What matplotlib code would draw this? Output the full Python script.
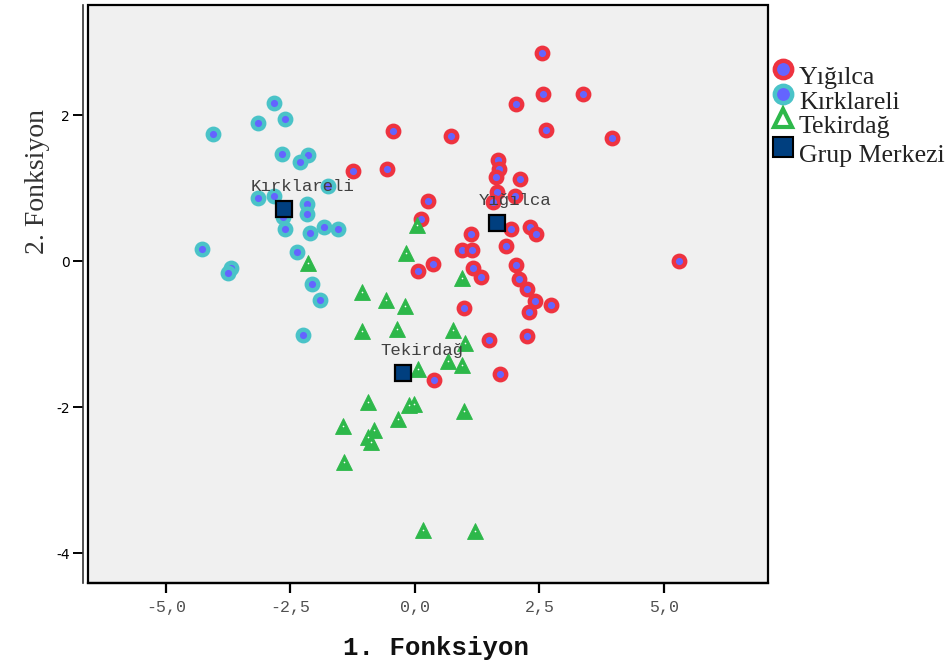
"""Discriminant function scatter (SPSS style) recreated with matplotlib."""
import matplotlib

matplotlib.use("Agg")
import matplotlib.pyplot as plt
from matplotlib.patches import Rectangle

RED = "#EE3340"
BLUE_IN = "#6464FF"
CYAN = "#4AC3C8"
GREEN = "#2DB84A"
NAVY = "#003F7F"
BG = "#F0F0F0"

plt.rcParams.update({
    "font.family": "DejaVu Sans",
    "axes.unicode_minus": False,
})

# --- data ---
yig_x = [-0.45, -1.25, -0.57, 0.27, 0.13, 0.36, 0.07, 2.56, 2.57, 3.38, 2.03, 2.64, 3.96, 0.72,
         1.66, 1.69, 1.63, 2.11, 1.65, 2.00, 1.57, 1.93, 2.32, 2.44, 1.12, 0.94, 1.15, 1.82,
         1.17, 2.03, 1.32, 2.09, 5.31, 2.26, 2.42, 2.74, 2.30, 0.98, 1.49, 2.24, 1.71, 0.39]
yig_y = [1.78, 1.23, 1.26, 0.82, 0.58, -0.04, -0.14, 2.85, 2.29, 2.29, 2.15, 1.79, 1.68, 1.71,
         1.38, 1.26, 1.15, 1.13, 0.94, 0.89, 0.81, 0.44, 0.46, 0.37, 0.37, 0.15, 0.15, 0.21,
         -0.09, -0.06, -0.22, -0.24, 0.00, -0.38, -0.55, -0.60, -0.70, -0.65, -1.08, -1.03,
         -1.55, -1.63]

kir_x = [-2.83, -3.15, -2.60, -4.05, -2.67, -2.15, -2.31, -1.75, -3.15, -2.83, -2.17, -2.17,
         -2.64, -2.60, -2.11, -1.83, -1.54, -4.28, -2.36, -3.69, -3.76, -2.07, -1.91, -2.25]
kir_y = [2.16, 1.89, 1.94, 1.74, 1.47, 1.45, 1.35, 1.03, 0.86, 0.89, 0.78, 0.65, 0.60, 0.44,
         0.39, 0.47, 0.44, 0.16, 0.13, -0.09, -0.16, -0.32, -0.54, -1.01]

tek_x = [-1.06, -0.59, -0.20, -1.06, -0.37, 0.06, -0.95, -0.11, -0.02, -0.34, -1.45, -0.82,
         -0.95, -0.88, -1.42, 0.16, 0.05, -0.17, -2.14, 0.94, 0.76, 1.00, 0.67, 0.95, 0.99, 1.20]
tek_y = [-0.43, -0.53, -0.62, -0.96, -0.93, -1.48, -1.93, -1.97, -1.96, -2.16, -2.26, -2.32,
         -2.41, -2.48, -2.75, -3.68, 0.49, 0.11, -0.03, -0.23, -0.95, -1.12, -1.37, -1.42,
         -2.05, -3.70]

cent_names = ["Yığılca", "Kırklareli", "Tekirdağ"]
cent_x = [1.64, -2.63, -0.23]
cent_y = [0.52, 0.71, -1.53]

x_ticks = [-5.0, -2.5, 0.0, 2.5, 5.0]
y_ticks = [-4, -2, 0, 2]

legend_labels = ["Yığılca", "Kırklareli", "Tekirdağ", "Grup Merkezi"]

W, H = 951, 666
fig = plt.figure(figsize=(W / 100, H / 100), dpi=100)
fig.patch.set_facecolor("white")
ax = fig.add_axes([0.0925, 0.1246, 0.7150, 0.8679])
ax.set_facecolor(BG)

ax.plot(yig_x, yig_y, ls="none", marker="o", ms=8.3, mfc=BLUE_IN, mec=RED, mew=3.1, zorder=3)
ax.plot(kir_x, kir_y, ls="none", marker="o", ms=8.3, mfc=BLUE_IN, mec=CYAN, mew=3.1, zorder=4)
ax.plot(tek_x, tek_y, ls="none", marker="^", ms=11, mfc=GREEN, mec=GREEN, mew=0.6, zorder=5)
ax.plot(tek_x, tek_y, ls="none", marker="o", ms=1.2, mfc="white", mec="none", zorder=6)
ax.plot(cent_x, cent_y, ls="none", marker="s", ms=12, mfc=NAVY, mec="black", mew=1.6, zorder=7)

for name, cx, cy in zip(cent_names, cent_x, cent_y):
    ax.annotate(name, (cx, cy), xytext=(13.5, 16), textcoords="offset points",
                ha="center", va="center", fontsize=12.5, family="Liberation Mono",
                color="#404040", zorder=8)

ax.set_xlim(-6.566, 7.088)
ax.set_ylim(-4.41, 3.507)

ax.set_xticks(x_ticks)
ax.set_xticklabels([f"{v:.1f}".replace(".", ",") for v in x_ticks])
ax.set_yticks(y_ticks)
ax.set_yticklabels([str(v) for v in y_ticks])
for lab in ax.get_xticklabels() + ax.get_yticklabels():
    lab.set_family("Liberation Mono")
    lab.set_fontsize(12)
    lab.set_color("#505050")
ax.tick_params(axis="x", direction="out", length=7.5, width=1.6, pad=5, color="black")
ax.tick_params(axis="y", direction="out", length=7.5, width=1.4, pad=2, color="black")

for s in ("top", "right"):
    ax.spines[s].set_visible(False)
ax.spines["bottom"].set_linewidth(1.6)
ax.spines["left"].set_position(("outward", 3.6))
ax.spines["left"].set_linewidth(1.2)
ax.spines["left"].set_color("#333333")
# plot frame
ax.add_patch(Rectangle((0, 0), 1, 1, transform=ax.transAxes, fill=False,
                       edgecolor="black", lw=1.6, clip_on=False, zorder=10))

fig.text(436 / W, 1 - 648 / H, "1. Fonksiyon", ha="center", va="center",
         family="Liberation Mono", fontweight="bold", fontsize=18.5, color="#111111")
fig.text(38 / W, 1 - 181 / H, "2. Fonksiyon", ha="center", va="center", rotation=90,
         family="Liberation Serif", fontsize=20, color="#333333")

# legend, drawn by hand on an overlay in pixel units (marker sits above its text)
lax = fig.add_axes([0, 0, 1, 1])
lax.set_xlim(0, W)
lax.set_ylim(H, 0)
lax.axis("off")
lax.patch.set_alpha(0)
leg_rows = [69, 94, 118, 147]
leg_styles = [
    dict(marker="o", ms=12.5, mfc=BLUE_IN, mec=RED, mew=3.2),
    dict(marker="o", ms=12.5, mfc=BLUE_IN, mec=CYAN, mew=3.2),
    dict(marker="^", ms=13, mfc="white", mec=GREEN, mew=3),
    dict(marker="s", ms=14, mfc=NAVY, mec="black", mew=1.5),
]
for row, lab, st in zip(leg_rows, legend_labels, leg_styles):
    lax.plot([783], [row], ls="none", clip_on=False, **st)
    lax.text(799, row + 9, lab, ha="left", va="center", family="Liberation Serif",
             fontsize=18.6, color="#222222")

fig.savefig("out.png", dpi=100, facecolor="white")
